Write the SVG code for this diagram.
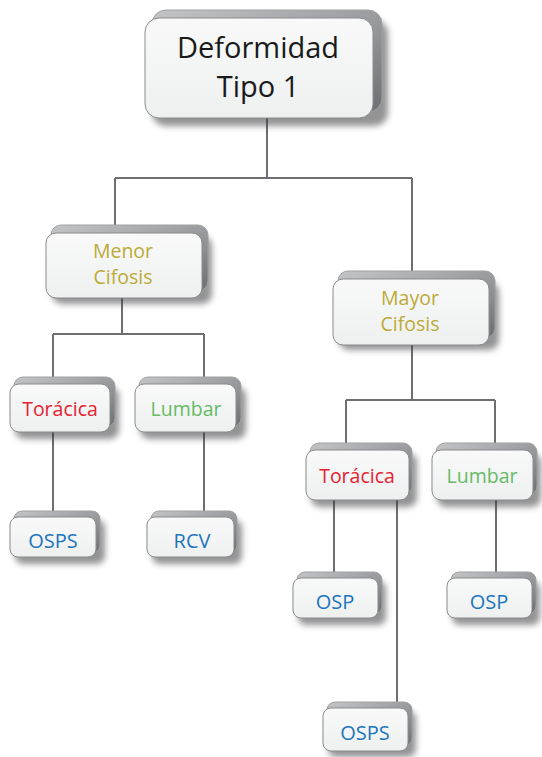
<svg xmlns="http://www.w3.org/2000/svg" width="542" height="757" viewBox="0 0 542 757">
<defs>
<linearGradient id="face" x1="0" y1="0" x2="0" y2="1">
<stop offset="0" stop-color="#f9f9f9"/><stop offset="1" stop-color="#eef0f0"/>
</linearGradient>
<linearGradient id="back" x1="0" y1="0" x2="1" y2="1">
<stop offset="0" stop-color="#c4c5c7"/><stop offset="0.6" stop-color="#949598"/><stop offset="1" stop-color="#6d6e71"/>
</linearGradient>
<filter id="sh" x="-20%" y="-20%" width="150%" height="160%">
<feGaussianBlur stdDeviation="3"/>
</filter>
</defs>
<style>
.conn{stroke:#6d6e71;stroke-width:2;fill:none}
.shadow{fill:#3a3a3c;opacity:0.55;filter:url(#sh)}
.back{fill:url(#back);stroke:#a0a1a3;stroke-width:1}
.face{fill:url(#face);stroke:#8a8b8d;stroke-width:1}
text{font-family:"Open Sans","Noto Sans",sans-serif;text-anchor:middle}
.big{font-size:29px;fill:#1a1a1a}
.olive{font-size:19.5px;fill:#bcaa36}
.red{font-size:19.5px;fill:#e62232}
.green{font-size:19.5px;fill:#66bb66}
.blue{font-size:20px;fill:#1c74bc}
</style>
<g id="connectors">
<path class="conn" d="M267 118V178M115 178H412M115 178V232M412 178V280"/>
<path class="conn" d="M122 298V334M53 334H204M53 334V384M204 334V384"/>
<path class="conn" d="M53 432V517M204 432V517"/>
<path class="conn" d="M412 345V400M346 400H495M346 400V450M495 400V450"/>
<path class="conn" d="M334 500V578M397 500V708M496 500V578"/>
</g>
<g id="n-deformidad">
<rect class="shadow" x="152" y="20" width="236" height="106" rx="14"/>
<rect class="back" x="152" y="10" width="230" height="102" rx="14"/>
<rect class="face" x="145" y="18" width="228" height="100" rx="14"/>
<text class="big" x="258" y="58">Deformidad</text>
<text class="big" x="258" y="97">Tipo 1</text>
</g>
<g id="n-menor">
<rect class="shadow" x="52" y="236" width="160" height="68" rx="10"/>
<rect class="back" x="51" y="225" width="157" height="66" rx="10"/>
<rect class="face" x="46" y="233" width="156" height="65" rx="10"/>
<text class="olive" x="123" y="258">Menor</text>
<text class="olive" x="123" y="284">Cifosis</text>
</g>
<g id="n-mayor">
<rect class="shadow" x="339" y="282" width="160" height="68" rx="10"/>
<rect class="back" x="338" y="271" width="157" height="67" rx="10"/>
<rect class="face" x="333" y="279" width="156" height="66" rx="10"/>
<text class="olive" x="410" y="305">Mayor</text>
<text class="olive" x="410" y="331">Cifosis</text>
</g>
<g id="n-toracica-l">
<rect class="shadow" x="15" y="387" width="104" height="52" rx="9"/>
<rect class="back" x="14" y="377" width="101" height="50" rx="9"/>
<rect class="face" x="10" y="384" width="100" height="48" rx="9"/>
<text class="red" x="60" y="416">Torácica</text>
</g>
<g id="n-lumbar-l">
<rect class="shadow" x="140" y="387" width="106" height="52" rx="9"/>
<rect class="back" x="139" y="377" width="102" height="50" rx="9"/>
<rect class="face" x="135" y="384" width="101" height="48" rx="9"/>
<text class="green" x="186" y="416">Lumbar</text>
</g>
<g id="n-osps-l">
<rect class="shadow" x="15" y="520" width="90" height="44" rx="8"/>
<rect class="back" x="14" y="511" width="86" height="42" rx="8"/>
<rect class="face" x="10" y="517" width="86" height="40" rx="8"/>
<text class="blue" x="53" y="548">OSPS</text>
</g>
<g id="n-rcv">
<rect class="shadow" x="152" y="520" width="90" height="44" rx="8"/>
<rect class="back" x="151" y="511" width="86" height="42" rx="8"/>
<rect class="face" x="147" y="517" width="87" height="40" rx="8"/>
<text class="blue" x="192" y="548">RCV</text>
</g>
<g id="n-toracica-r">
<rect class="shadow" x="311" y="453" width="106" height="54" rx="9"/>
<rect class="back" x="310" y="443" width="102" height="52" rx="9"/>
<rect class="face" x="306" y="450" width="103" height="50" rx="9"/>
<text class="red" x="357" y="483">Torácica</text>
</g>
<g id="n-lumbar-r">
<rect class="shadow" x="437" y="453" width="104" height="54" rx="9"/>
<rect class="back" x="436" y="443" width="101" height="52" rx="9"/>
<rect class="face" x="432" y="450" width="101" height="50" rx="9"/>
<text class="green" x="482" y="483">Lumbar</text>
</g>
<g id="n-osp-1">
<rect class="shadow" x="298" y="581" width="88" height="44" rx="8"/>
<rect class="back" x="297" y="572" width="85" height="42" rx="8"/>
<rect class="face" x="293" y="578" width="85" height="40" rx="8"/>
<text class="blue" x="335" y="609">OSP</text>
</g>
<g id="n-osp-2">
<rect class="shadow" x="452" y="581" width="88" height="44" rx="8"/>
<rect class="back" x="451" y="572" width="85" height="42" rx="8"/>
<rect class="face" x="447" y="578" width="85" height="40" rx="8"/>
<text class="blue" x="489" y="609">OSP</text>
</g>
<g id="n-osps-b">
<rect class="shadow" x="328" y="711" width="88" height="46" rx="8"/>
<rect class="back" x="327" y="702" width="85" height="44" rx="8"/>
<rect class="face" x="323" y="708" width="85" height="43" rx="8"/>
<text class="blue" x="365" y="740">OSPS</text>
</g>
</svg>
